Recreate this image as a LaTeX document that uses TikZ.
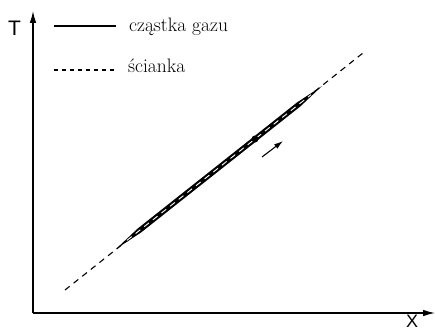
\documentclass[tikz,border=0pt]{standalone}
\usepackage{fontspec}
\newfontfamily\axisfont{Liberation Sans}
\usetikzlibrary{arrows.meta,calc}
\begin{document}
\begin{tikzpicture}[x=1pt,y=-1pt,
  axis/.style={line width=1.2pt,-{Latex[length=12pt,width=6.5pt]}},
  wall/.style={line width=1.1pt,dash pattern=on 6pt off 5pt},
  axlabel/.style={inner sep=0pt,font=\axisfont\fontsize{21}{21}\selectfont},
  legtext/.style={inner sep=0pt,anchor=base west,font=\fontsize{19.5}{19.5}\selectfont},
  smallarrow/.style={line width=1.1pt,-{Latex[length=9pt,width=5.5pt]}}]
\useasboundingbox (0,0) rectangle (435,331);
% axes
\coordinate (O) at (33,313);
\coordinate (Ytop) at (33,11);
\coordinate (Xend) at (435,313);
\draw[axis] (O) -- (Ytop);
\draw[axis] (O) -- (Xend);
\node[axlabel] (T) at (14.5,28) {T};
\node[axlabel,font=\axisfont\fontsize{18}{18}\selectfont] (X) at (412,321.5) {X};
% legend
\coordinate (L1a) at (54,26);
\coordinate (L1b) at (116,26);
\draw[line width=1.3pt] (L1a) -- (L1b);
\node[legtext] (l1) at (129,32) {cząstka gazu};
\coordinate (L2a) at (54,70);
\coordinate (L2b) at (116,70);
\draw[line width=1.1pt,dash pattern=on 4pt off 4pt] (L2a) -- (L2b);
\node[legtext] (l2) at (128,73) {ścianka};
% wall line
\coordinate (W1) at (65,290);
\coordinate (W2) at (363,53);
\draw[wall] (W1) -- (W2);
% particle path (tapered thick line)
\coordinate (A) at (116,249);
\coordinate (B) at (322,86);
\coordinate (A1) at ($(A)!30pt!(B)$);
\coordinate (B1) at ($(B)!30pt!(A)$);
\fill (A) -- ($(A1)!2.6pt!90:(B)$) -- ($(B1)!2.6pt!-90:(A)$) -- (B) -- ($(B1)!2.6pt!90:(A)$) -- ($(A1)!2.6pt!-90:(B)$) -- cycle;
\draw[white,line width=0.9pt,dash pattern=on 6pt off 5pt] ($(A)!14pt!(B)$) -- ($(B)!14pt!(A)$);
% particle
\coordinate (P) at (255,139);
\fill (P) circle (3.5pt);
% motion arrow
\coordinate (M1) at (262,157);
\coordinate (M2) at (283,141);
\draw[smallarrow] (M1) -- (M2);
\end{tikzpicture}
\end{document}
